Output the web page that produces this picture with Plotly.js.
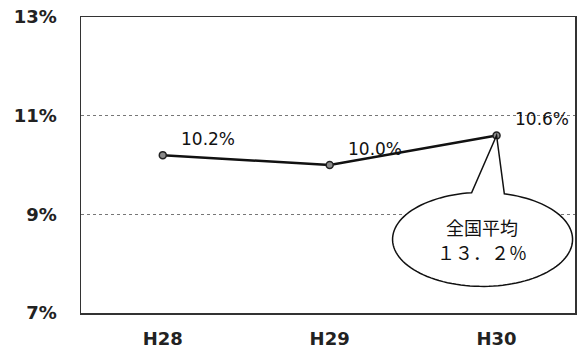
<!DOCTYPE html>
<html>
<head>
<meta charset="utf-8">
<script src="https://cdn.plot.ly/plotly-3.0.1.min.js"></script>
<style>html,body{margin:0;padding:0;background:#fff;}#chart{width:582px;height:349px;}</style>
</head>
<body>
<div id="chart"></div>
<script>
// Data
const categories = ["H28", "H29", "H30"];
const values = [10.2, 10.0, 10.6];
const valueLabels = ["10.2%", "10.0%", "10.6%"];
const yTickVals = [7, 9, 11, 13];
const yTickText = ["7%", "9%", "11%", "13%"];
const calloutLines = ["全国平均", "１３．２％"];

// Callout (speech bubble) path, pixel offsets relative to the H30 point (y up)
function bubblePath() {
  const cx = -14, cy = -104, rx = 90, ry = 47;
  const a0 = 97, a1 = 436;
  const pts = [];
  for (let a = a0; a <= a1; a += 3) {
    const t = a * Math.PI / 180;
    pts.push([(cx + rx * Math.cos(t)).toFixed(2), (cy + ry * Math.sin(t)).toFixed(2)]);
  }
  const tEnd = a1 * Math.PI / 180;
  pts.push([(cx + rx * Math.cos(tEnd)).toFixed(2), (cy + ry * Math.sin(tEnd)).toFixed(2)]);
  let d = "M " + pts[0][0] + " " + pts[0][1];
  for (let i = 1; i < pts.length; i++) d += " L " + pts[i][0] + " " + pts[i][1];
  d += " L 0 0 Z";
  return d;
}

const trace = {
  x: categories,
  y: values,
  type: "scatter",
  mode: "lines+markers",
  line: {color: "#111", width: 2.5},
  marker: {size: 7, color: "#8a8a8a", line: {color: "#222", width: 1.5}},
  hoverinfo: "skip"
};

const labelAnnotations = categories.map((c, i) => ({
  x: i, y: values[i], xref: "x", yref: "y",
  text: valueLabels[i], showarrow: false,
  xanchor: "left", yanchor: "middle",
  xshift: 16, yshift: 16,
  font: {family: "DejaVu Sans, sans-serif", size: 17, color: "#111"}
}));

const last = categories.length - 1;
const calloutAnnotations = [
  {x: last, y: values[last], xref: "x", yref: "y", text: calloutLines[0], showarrow: false,
   xanchor: "center", yanchor: "middle", xshift: -15, yshift: -92,
   font: {family: "Noto Sans CJK JP, sans-serif", size: 18, color: "#111"}},
  {x: last, y: values[last], xref: "x", yref: "y", text: calloutLines[1], showarrow: false,
   xanchor: "center", yanchor: "middle", xshift: -15, yshift: -117,
   font: {family: "Noto Sans CJK JP, sans-serif", size: 18, color: "#111"}}
];

const layout = {
  width: 582, height: 349,
  margin: {l: 81, r: 7, t: 17, b: 36},
  paper_bgcolor: "#fff", plot_bgcolor: "#fff",
  showlegend: false,
  xaxis: {
    type: "category", range: [-0.49, 2.47],
    showgrid: false, zeroline: false,
    showline: true, mirror: true, linecolor: "#333", linewidth: 1.5,
    ticks: "", ticklabelstandoff: 9,
    tickfont: {family: "DejaVu Sans, sans-serif", size: 18, color: "#222", weight: "bold"}
  },
  yaxis: {
    range: [7, 13], tickvals: yTickVals, ticktext: yTickText,
    showgrid: true, gridcolor: "#777", griddash: "dot", gridwidth: 1,
    zeroline: false,
    showline: true, mirror: true, linecolor: "#333", linewidth: 1.5,
    ticks: "", ticklabelstandoff: 19,
    tickfont: {family: "DejaVu Sans, sans-serif", size: 18, color: "#222", weight: "bold"}
  },
  shapes: [{
    type: "path", layer: "above",
    xref: "x", yref: "y", xsizemode: "pixel", ysizemode: "pixel",
    xanchor: last, yanchor: values[last],
    path: bubblePath(),
    fillcolor: "#fff", line: {color: "#111", width: 1.5}
  }],
  annotations: labelAnnotations.concat(calloutAnnotations)
};

Plotly.newPlot("chart", [trace], layout, {displayModeBar: false, staticPlot: true});
</script>
</body>
</html>
